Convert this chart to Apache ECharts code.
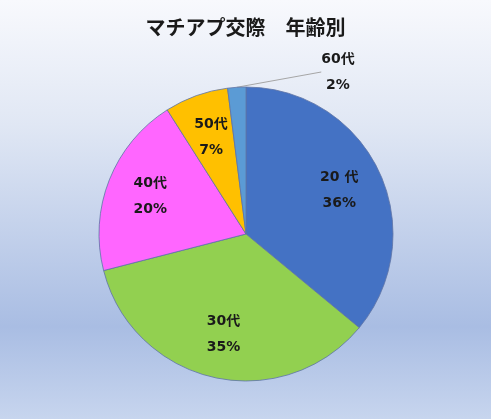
<!DOCTYPE html>
<html>
<head>
<meta charset="utf-8">
<script src="https://cdn.jsdelivr.net/npm/echarts@6/dist/echarts.min.js"></script>
<style>
  html, body { margin: 0; padding: 0; }
  #chart { width: 491px; height: 419px; }
</style>
</head>
<body>
<div id="chart"></div>
<script>
// データ
const titleText = 'マチアプ交際　年齢別'
const ageNames = ['20 代', '30代', '40代', '50代', '60代']
const ageValues = [36, 35, 20, 7, 2]
const sliceColors = ['#4472c4', '#92d050', '#ff66ff', '#ffc000', '#5b9bd5']
// 外側にラベルを出す項目
const outsideLabelName = '60代'

let myChart = echarts.init(document.getElementById('chart'))

const labelFont = {
    fontFamily: 'DejaVu Sans, Noto Sans CJK JP',
    fontWeight: 'bold',
    fontSize: 14,
    color: '#1a1a1a',
    lineHeight: 26,
    formatter: '{b}\n{d}%'
}

// 扇形本体
const pieData = ageNames.map((name, i) => ({
    name: name,
    value: ageValues[i],
    itemStyle: { color: sliceColors[i] },
    label: { show: name === outsideLabelName },
    labelLine: { show: name === outsideLabelName }
}))

// 内側ラベル用（透明）
const labelData = ageNames.map((name, i) => ({
    name: name,
    value: ageValues[i],
    label: { show: name !== outsideLabelName }
}))

let options = {
    backgroundColor: {
        type: 'linear',
        x: 0, y: 0, x2: 0, y2: 1,
        colorStops: [
            { offset: 0, color: '#f8f9fd' },
            { offset: 0.3, color: '#e0e7f4' },
            { offset: 0.78, color: '#a9bde3' },
            { offset: 1, color: '#c7d5ee' }
        ]
    },
    title: {
        text: titleText,
        left: 'center',
        top: 12,
        textStyle: {
            fontFamily: 'Noto Sans CJK JP',
            fontWeight: 'bold',
            fontSize: 20,
            color: '#1a1a1a'
        }
    },
    series: [{
        type: 'pie',
        center: [246, 234],
        radius: [0, 147],
        startAngle: 90,
        percentPrecision: 0,
        silent: true,
        animation: false,
        itemStyle: {
            borderColor: '#5e74a6',
            borderWidth: 0.8
        },
        label: Object.assign({ position: 'outside' }, labelFont),
        labelLine: {
            length2: 0,
            lineStyle: { color: '#a6a6a6', width: 1 }
        },
        labelLayout: function (params) {
            if (params.dataIndex === ageNames.indexOf(outsideLabelName)) {
                return { x: 338, y: 72, align: 'center', verticalAlign: 'middle' }
            }
            return {}
        },
        data: pieData
    }, {
        type: 'pie',
        center: [246, 234],
        radius: [52, 148],
        startAngle: 90,
        percentPrecision: 0,
        silent: true,
        animation: false,
        itemStyle: { color: 'rgba(0,0,0,0)' },
        label: Object.assign({ position: 'inside' }, labelFont),
        labelLine: { show: false },
        data: labelData
    }]
}

myChart.setOption(options)
</script>
</body>
</html>
